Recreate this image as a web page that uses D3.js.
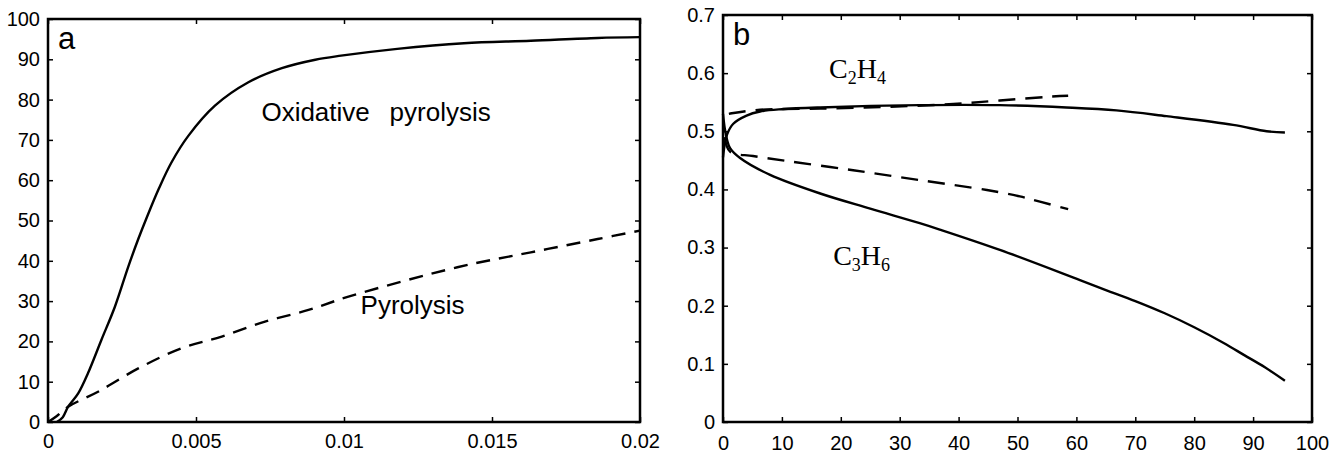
<!DOCTYPE html>
<html>
<head>
<meta charset="utf-8">
<script src="https://cdn.jsdelivr.net/npm/d3@7"></script>
<style>
    body { margin: 0; background: #fff; }
    text { fill: #000; }
</style>
</head>
<body>
<svg id="chart" width="1342" height="454"></svg>
<script>
// panel a: conversion vs time
const aXTicks = [0, 0.005, 0.01, 0.015, 0.02];
const aXLabels = ['0', '0.005', '0.01', '0.015', '0.02'];
const aYTicks = [0, 10, 20, 30, 40, 50, 60, 70, 80, 90, 100];
const oxidative = [
    [0.0003, 0], [0.0005, 1.2], [0.00068, 3.8], [0.00102, 7.1], [0.00135, 12.1],
    [0.0018, 20.3], [0.00226, 28.6], [0.00271, 38.5], [0.00305, 45.4], [0.00335, 51],
    [0.00375, 58], [0.00417, 64.4], [0.00474, 71.0], [0.00564, 78.5], [0.00677, 84.3],
    [0.0079, 87.8], [0.00903, 89.9], [0.0099, 90.9], [0.0118, 92.6], [0.01405, 94.0],
    [0.01631, 94.6], [0.01857, 95.3], [0.02, 95.5]
];
const pyrolysis = [
    [0, 0], [0.0003, 1.5], [0.00068, 3.8], [0.00169, 7.5], [0.00305, 13.3],
    [0.00451, 18.3], [0.00587, 21.2], [0.00733, 24.9], [0.0088, 27.8], [0.01015, 31.1],
    [0.01383, 38.4], [0.01631, 42.1], [0.01857, 45.4], [0.02, 47.5]
];

// panel b: selectivity vs conversion
const bXTicks = [0, 10, 20, 30, 40, 50, 60, 70, 80, 90, 100];
const bYTicks = [0, 0.1, 0.2, 0.3, 0.4, 0.5, 0.6, 0.7];
const c2h4Solid = [
    [0, 0.455], [0.3, 0.478], [0.7, 0.495], [1.75, 0.513], [4, 0.527], [6.3, 0.534],
    [10, 0.538], [16.5, 0.541], [33.4, 0.545], [47, 0.545], [58.3, 0.541], [66.8, 0.536],
    [75.3, 0.526], [86.6, 0.511], [92.3, 0.500], [95.4, 0.498]
];
const c3h6Solid = [
    [0, 0.53], [0.3, 0.505], [0.7, 0.485], [1.2, 0.471], [2.9, 0.454], [8, 0.425],
    [16.5, 0.393], [25, 0.367], [33.4, 0.342], [36.8, 0.331], [47, 0.296], [60.6, 0.244],
    [65, 0.227], [70, 0.208], [75, 0.187], [80, 0.163], [85, 0.136], [88.5, 0.115],
    [92, 0.094], [95.4, 0.071]
];
const c2h4Dashed = [
    [1, 0.53], [1.5, 0.531], [6.3, 0.537], [16.5, 0.539], [27.8, 0.542], [39.1, 0.547],
    [47, 0.553], [55.5, 0.5595], [58.6, 0.561]
];
const c3h6Dashed = [
    [0.3, 0.49], [1.2, 0.465], [5.1, 0.4575], [10.8, 0.449], [22.1, 0.433], [33.4, 0.416],
    [44.8, 0.399], [50.4, 0.388], [53.8, 0.379], [58.6, 0.366]
];

const svg = d3.select('#chart');

function drawPanel(cfg) {
    let x = d3.scaleLinear().domain(cfg.xDomain).range([cfg.left, cfg.right]);
    let y = d3.scaleLinear().domain(cfg.yDomain).range([cfg.bottom, cfg.top]);
    let g = svg.append('g');

    let tickStyle = sel => {
        sel.select('.domain').remove();
        sel.selectAll('.tick line').attr('stroke', '#000').attr('stroke-width', 1.5);
        sel.selectAll('.tick text')
            .attr('font-family', 'Liberation Sans, Arial, sans-serif')
            .attr('font-size', 20)
            .attr('fill', '#000');
    };

    g.append('g').attr('transform', 'translate(0,' + cfg.bottom + ')')
        .call(d3.axisBottom(x).tickValues(cfg.xTicks).tickSize(-5).tickPadding(cfg.xPad)
            .tickFormat((d, i) => cfg.xLabels[i]))
        .call(tickStyle);
    g.append('g').attr('transform', 'translate(0,' + cfg.top + ')')
        .call(d3.axisTop(x).tickValues(cfg.xTicks).tickSize(-5).tickFormat(''))
        .call(tickStyle);
    g.append('g').attr('transform', 'translate(' + cfg.left + ',0)')
        .call(d3.axisLeft(y).tickValues(cfg.yTicks).tickSize(-5).tickPadding(8)
            .tickFormat(d => d3.format('~g')(d)))
        .call(tickStyle);
    g.append('g').attr('transform', 'translate(' + cfg.right + ',0)')
        .call(d3.axisRight(y).tickValues(cfg.yTicks).tickSize(-5).tickFormat(''))
        .call(tickStyle);

    g.append('rect')
        .attr('x', cfg.left).attr('y', cfg.top)
        .attr('width', cfg.right - cfg.left).attr('height', cfg.bottom - cfg.top)
        .attr('fill', 'none').attr('stroke', '#000').attr('stroke-width', 2.5);

    let line = d3.line().x(d => x(d[0])).y(d => y(d[1])).curve(d3.curveCatmullRom.alpha(0.5));
    cfg.series.forEach(s => {
        g.append('path')
            .datum(s.data)
            .attr('d', line)
            .attr('fill', 'none')
            .attr('stroke', '#000')
            .attr('stroke-width', 2.4)
            .attr('stroke-dasharray', s.dashed ? cfg.dash : null);
    });

    g.append('text')
        .attr('x', cfg.left + 10).attr('y', cfg.top + cfg.letterDy)
        .attr('font-family', 'Liberation Sans, Arial, sans-serif')
        .attr('font-size', 31)
        .text(cfg.letter);

    return {g: g, x: x, y: y};
}

let pa = drawPanel({
    left: 48, right: 640, top: 19, bottom: 422,
    xDomain: [0, 0.02], yDomain: [0, 100],
    xTicks: aXTicks, xLabels: aXLabels, yTicks: aYTicks, xPad: 12,
    dash: '14,9', letter: 'a', letterDy: 30,
    series: [{data: oxidative, dashed: false}, {data: pyrolysis, dashed: true}]
});

let labelA = pa.g.append('text')
    .attr('font-family', 'Liberation Sans, Arial, sans-serif')
    .attr('font-size', 26)
    .attr('x', pa.x(0.00721)).attr('y', pa.y(74.7));
labelA.append('tspan').text('Oxidative');
labelA.append('tspan').attr('x', pa.x(0.01154)).text('pyrolysis');

pa.g.append('text')
    .attr('font-family', 'Liberation Sans, Arial, sans-serif')
    .attr('font-size', 26)
    .attr('x', pa.x(0.01056)).attr('y', pa.y(26.8))
    .text('Pyrolysis');

let pb = drawPanel({
    left: 723, right: 1312, top: 15, bottom: 422,
    xDomain: [0, 100], yDomain: [0, 0.7],
    xTicks: bXTicks, xLabels: bXTicks.map(String), yTicks: bYTicks, xPad: 14,
    dash: '17,10', letter: 'b', letterDy: 30,
    series: [
        {data: c2h4Solid, dashed: false}, {data: c3h6Solid, dashed: false},
        {data: c2h4Dashed, dashed: true}, {data: c3h6Dashed, dashed: true}
    ]
});

function formula(px, py, parts) {
    let t = pb.g.append('text')
        .attr('font-family', 'Liberation Serif, Times New Roman, serif')
        .attr('font-size', 28)
        .attr('x', px).attr('y', py);
    parts.forEach((p, i) => {
        if (i % 2 === 0) {
            t.append('tspan').attr('dy', i === 0 ? 0 : -6).text(p);
        } else {
            t.append('tspan').attr('font-size', 18).attr('dy', 6).text(p);
        }
    });
}
formula(pb.x(18.0), pb.y(0.592), ['C', '2', 'H', '4']);
formula(pb.x(18.7), pb.y(0.270), ['C', '3', 'H', '6']);
</script>
</body>
</html>
